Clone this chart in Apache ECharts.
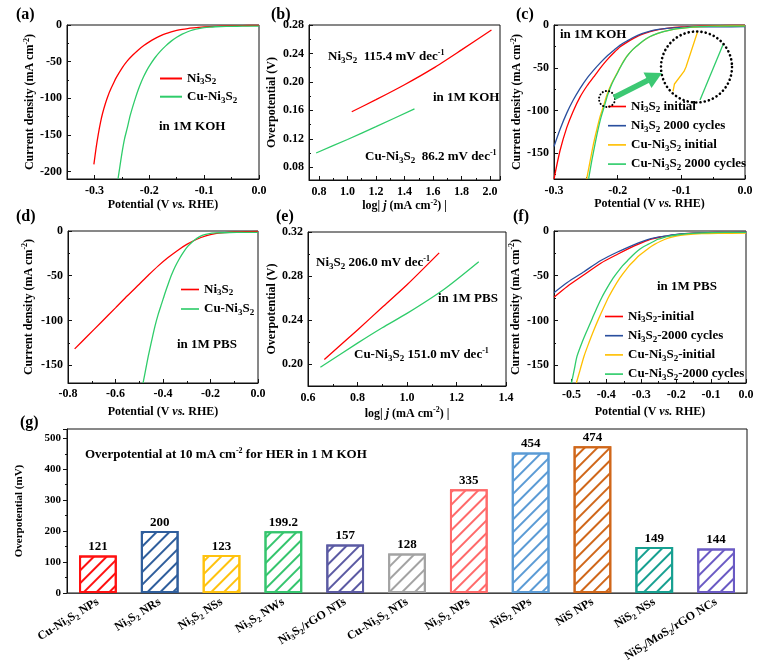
<!DOCTYPE html>
<html><head><meta charset="utf-8">
<script src="https://cdn.jsdelivr.net/npm/echarts@6/dist/echarts.min.js"></script>
<style>html,body{margin:0;padding:0;background:#fff}#c{width:762px;height:671px}</style>
</head><body><div id="c"></div><script>
// ---------------- DATA ----------------
// (a) LSV, 1M KOH  [potential V, current density mA cm-2]
const aNi3S2 = [[-0.301,-190],[-0.297,-168],[-0.293,-149],[-0.289,-133],[-0.285,-120],[-0.28,-107],[-0.275,-96],[-0.27,-87],[-0.265,-79],[-0.26,-71.5],[-0.25,-59],[-0.24,-49],[-0.23,-41],[-0.22,-34],[-0.21,-28],[-0.2,-23],[-0.19,-18.6],[-0.18,-14.8],[-0.17,-11.7],[-0.16,-9.3],[-0.15,-7.4],[-0.14,-6],[-0.13,-4.9],[-0.12,-4],[-0.11,-3.2],[-0.1,-2.6],[-0.08,-1.8],[-0.06,-1.3],[-0.04,-0.9],[-0.02,-0.7],[0,-0.5]];
const aCuNi3S2 = [[-0.257,-210],[-0.253,-190],[-0.249,-171],[-0.245,-155],[-0.24,-140],[-0.235,-124],[-0.23,-111],[-0.225,-99],[-0.22,-88],[-0.215,-78.5],[-0.21,-70],[-0.205,-62.5],[-0.2,-56],[-0.19,-45],[-0.18,-36],[-0.17,-28.5],[-0.16,-22],[-0.15,-16.8],[-0.14,-12.5],[-0.13,-9.2],[-0.12,-6.7],[-0.11,-4.9],[-0.1,-3.7],[-0.09,-2.9],[-0.08,-2.4],[-0.06,-1.9],[-0.04,-1.7],[-0.02,-1.6],[0,-1.5]];
// (b) Tafel, 1M KOH [log j, overpotential V]
const bNi3S2 = [[1.03,0.158],[1.2,0.175],[1.4,0.196],[1.6,0.219],[1.8,0.245],[2.01,0.273]];
const bCuNi3S2 = [[0.78,0.100],[1.0,0.119],[1.2,0.137],[1.47,0.162]];
// (c) stability, 1M KOH
const cNiInit = [[-0.3,-180],[-0.2906,-147],[-0.28,-120],[-0.27,-101],[-0.259,-84],[-0.248,-71],[-0.238,-61],[-0.227,-50],[-0.217,-41],[-0.206,-32.5],[-0.196,-25.5],[-0.185,-20],[-0.175,-15.7],[-0.162,-11],[-0.149,-7.8],[-0.136,-5.5],[-0.123,-3.9],[-0.1,-2.2],[-0.07,-1.2],[-0.04,-0.7],[0,-0.4]];
const cNi2000 = [[-0.3,-142],[-0.29,-121],[-0.28,-103],[-0.27,-88],[-0.259,-74],[-0.248,-62],[-0.238,-53],[-0.227,-44],[-0.217,-36.5],[-0.206,-29.5],[-0.196,-23.5],[-0.185,-18.5],[-0.175,-14.3],[-0.162,-10.2],[-0.149,-7.2],[-0.136,-5.2],[-0.123,-3.9],[-0.1,-2.8],[-0.07,-2.3],[-0.04,-2.1],[0,-2]];
const cCuInit = [[-0.2487,-180],[-0.243,-158],[-0.238,-139],[-0.233,-123],[-0.228,-108],[-0.222,-94],[-0.217,-82],[-0.21,-69],[-0.2015,-57],[-0.194,-46.5],[-0.186,-37],[-0.176,-28.5],[-0.165,-21.6],[-0.155,-16],[-0.144,-11.8],[-0.128,-7.8],[-0.1125,-5],[-0.09,-3],[-0.07,-2],[-0.04,-1.3],[0,-1]];
const cCu2000 = [[-0.2457,-180],[-0.2405,-158],[-0.2355,-139],[-0.231,-123],[-0.2262,-108],[-0.2205,-94],[-0.2158,-82],[-0.2092,-69],[-0.201,-57],[-0.1936,-46.5],[-0.1858,-37],[-0.176,-28.5],[-0.1652,-21.6],[-0.1552,-16],[-0.1442,-11.8],[-0.1282,-7.8],[-0.1127,-5],[-0.0905,-3],[-0.0705,-2],[-0.0405,-1.4],[0,-1.2]];
// (c) magnified inset (arbitrary inset units 0..10)
const insetCuInit = [[1.81,1.6],[2.01,2.64],[3.33,4.38],[3.61,5.0],[5.21,9.86]];
const insetCu2000 = [[5.56,0.42],[8.79,8.19]];
// (d) LSV, 1M PBS
const dNi3S2 = [[-0.772,-131.8],[-0.72,-118],[-0.66,-102],[-0.6,-86],[-0.55,-72.5],[-0.5,-59.5],[-0.46,-49],[-0.42,-39],[-0.38,-30],[-0.34,-22],[-0.3,-15],[-0.26,-9.5],[-0.22,-5.5],[-0.18,-3],[-0.14,-1.8],[-0.1,-1.1],[-0.05,-0.7],[0,-0.5]];
const dCuNi3S2 = [[-0.484,-170],[-0.473,-155],[-0.462,-140],[-0.448,-123],[-0.434,-106.7],[-0.42,-93],[-0.405,-80.7],[-0.391,-69],[-0.377,-58.4],[-0.363,-48.5],[-0.349,-40],[-0.331,-31],[-0.313,-23.3],[-0.295,-17],[-0.277,-12.2],[-0.256,-8],[-0.235,-4.8],[-0.21,-3.2],[-0.178,-2.2],[-0.12,-1.7],[-0.06,-1.5],[0,-1.5]];
// (e) Tafel, 1M PBS
const eNi3S2 = [[0.666,0.204],[0.8,0.231],[0.9,0.2515],[1.0,0.272],[1.13,0.301]];
const eCuNi3S2 = [[0.65,0.197],[0.8,0.219],[0.9,0.233],[1.0,0.246],[1.15,0.268],[1.29,0.293]];
// (f) stability, 1M PBS
const fNiInit = [[-0.55,-74],[-0.512,-62],[-0.464,-49],[-0.416,-36],[-0.368,-26],[-0.32,-16.7],[-0.296,-12.7],[-0.272,-9.2],[-0.248,-7],[-0.223,-5.5],[-0.2,-4],[-0.175,-3],[-0.13,-2],[-0.08,-1.6],[0,-1.4]];
const fNi2000 = [[-0.55,-69],[-0.512,-57.6],[-0.464,-45.5],[-0.416,-33],[-0.368,-23.5],[-0.32,-15.2],[-0.296,-11.5],[-0.272,-8.4],[-0.248,-6.5],[-0.223,-5.1],[-0.2,-3.9],[-0.175,-3],[-0.13,-2],[-0.08,-1.6],[0,-1.4]];
const fCuInit = [[-0.486,-170],[-0.475,-155],[-0.464,-140],[-0.45,-125],[-0.436,-111],[-0.422,-98],[-0.407,-85],[-0.393,-73.5],[-0.378,-63],[-0.364,-54],[-0.349,-46],[-0.335,-39],[-0.32,-33],[-0.306,-27.5],[-0.291,-23],[-0.277,-18.7],[-0.262,-15],[-0.243,-11.2],[-0.223,-8],[-0.2,-5.8],[-0.175,-4.4],[-0.127,-3],[-0.08,-2.6],[0,-2.4]];
const fCu2000 = [[-0.5,-170],[-0.492,-155],[-0.484,-140],[-0.47,-125],[-0.455,-111],[-0.44,-97.5],[-0.426,-85],[-0.412,-73.5],[-0.397,-63],[-0.383,-54],[-0.368,-46],[-0.354,-39],[-0.339,-33],[-0.325,-27.3],[-0.31,-22],[-0.296,-18.2],[-0.281,-15],[-0.266,-12],[-0.252,-9.2],[-0.237,-7.5],[-0.223,-6],[-0.195,-4.2],[-0.165,-3],[-0.12,-2],[-0.06,-1.6],[0,-1.5]];
// (g) overpotential comparison
const gCategories = ['Cu-Ni_3S_2 NPs','Ni_3S_2 NRs','Ni_3S_2 NSs','Ni_3S_2 NWs','Ni_3S_2/rGO NTs','Cu-Ni_3S_2 NTs','Ni_3S_2 NPs','NiS_2 NPs','NiS NPs','NiS_2 NSs','NiS_2/MoS_2/rGO NCs'];
const gValues = [121,200,123,199.2,157,128,335,454,474,149,144];
const gColors = ['#ff1010','#2f5e9c','#ffc20e','#35c56e','#5b5aa3','#a3a3a3','#ff6a6a','#5b9bd5','#d0671a','#17a091','#6a5ac4'];

// ---------------- HELPERS ----------------
const FF = "'Liberation Serif','Times New Roman',serif";
function R(s){
  let out='', buf='', i=0;
  const flush=()=>{ if(buf){ out+='{n|'+buf+'}'; buf=''; } };
  while(i<s.length){
    const c=s[i];
    if(c==='_'){ flush(); out+='{s|'+s[i+1]+'}'; i+=2; }
    else if((c==='^'||c==='~') && s[i+1]==='{'){ flush(); const j=s.indexOf('}',i); out+='{'+(c==='^'?'p':'i')+'|'+s.slice(i+2,j)+'}'; i=j+1; }
    else { buf+=c; i++; }
  }
  flush(); return out;
}
function RS(fs){
  const b={fontFamily:FF,fontWeight:'bold',color:'#000',fill:'#000'};
  const ss=Math.round(fs*0.7), ps=Math.round(fs*0.65);
  return {
    n:Object.assign({},b,{fontSize:fs,lineHeight:fs+3}),
    i:Object.assign({},b,{fontSize:fs,lineHeight:fs+3,fontStyle:'italic'}),
    s:Object.assign({},b,{fontSize:ss,height:ss,lineHeight:ss,verticalAlign:'bottom'}),
    p:Object.assign({},b,{fontSize:ps,height:ps,lineHeight:ps,verticalAlign:'top'})
  };
}
function axis(o){
  return {
    type:'value', gridIndex:o.g, min:o.min, max:o.max, minInterval:o.step, maxInterval:o.step,
    name:o.name?R(o.name):'', nameLocation:'middle', nameGap:o.gap||20,
    nameTextStyle:{rich:RS(12),fontFamily:FF,fontWeight:'bold',fontSize:12,color:'#000'},
    axisLine:{show:true,onZero:false,lineStyle:{color:'#111',width:1}},
    axisTick:{show:true,inside:!o.out,length:4,lineStyle:{color:'#111'}},
    minorTick:{show:true,splitNumber:2,length:2,lineStyle:{color:'#111'}},
    splitLine:{show:false}, minorSplitLine:{show:false},
    axisLabel:{margin:o.margin==null?5:o.margin,fontFamily:FF,fontWeight:'bold',fontSize:o.fs||12,color:'#000',
      formatter:v=>{const k=v/o.step; if(Math.abs(k-Math.round(k))>1e-6) return ''; return (Math.round(k)*o.step).toFixed(o.dec);}}
  };
}
function line(g,data,color,name){
  return {type:'line',name:name,xAxisIndex:g,yAxisIndex:g,data:data,showSymbol:false,symbol:'none',
    smooth:0.25,color:color,lineStyle:{color:color,width:1.3},itemStyle:{color:color},animation:false};
}
const RED='#ff0000', GRN='#2fcc6a', BLU='#2a4f9e', YEL='#ffbf00';
const legendNames = {
  aNi:'Ni_3S_2', aCu:'Cu-Ni_3S_2', dNi:'Ni_3S_2', dCu:'Cu-Ni_3S_2',
  cNiI:'Ni_3S_2 initial', cNi2:'Ni_3S_2 2000 cycles', cCuI:'Cu-Ni_3S_2 initial', cCu2:'Cu-Ni_3S_2 2000 cycles',
  fNiI:'Ni_3S_2-initial', fNi2:'Ni_3S_2-2000 cycles', fCuI:'Cu-Ni_3S_2-initial', fCu2:'Cu-Ni_3S_2-2000 cycles'
};
function legend(names,left,top,w,gap){
  return {data:names,orient:'vertical',left:left,top:top,padding:0,itemWidth:w,itemHeight:14,itemGap:gap,
    icon:'path://M0,6L22,6L22,8L0,8Z',
    textStyle:{rich:RS(13),fontFamily:FF,fontWeight:'bold',fontSize:13,color:'#000'},
    formatter:n=>R(legendNames[n]), selectedMode:false};
}

const grids = [
  {left:67,top:25,width:192,height:154},
  {left:309,top:25,width:191,height:155},
  {left:554,top:25,width:191,height:154},
  {left:68,top:231,width:190,height:152},
  {left:308,top:232,width:198,height:154},
  {left:554,top:231,width:192,height:152},
  {left:67,top:429,width:680,height:164},
  {left:660,top:31,width:72,height:72}
].map((g,i)=>Object.assign({show:i<7,borderColor:'#111',borderWidth:1,containLabel:false},g));

const POT='Potential (V ~{vs.} RHE)', CD='Current density (mA cm^{-2})', LOGJ='log| ~{j} (mA cm^{-2}) |';
const xAxes = [
  axis({g:0,min:-0.35,max:0,step:0.1,dec:1,name:POT,gap:18,margin:6}),
  axis({g:1,min:0.73,max:2.07,step:0.2,dec:1,name:LOGJ,gap:14,margin:6}),
  axis({g:2,min:-0.3,max:0,step:0.1,dec:1,name:POT,gap:16,margin:6}),
  axis({g:3,min:-0.8,max:0,step:0.2,dec:1,name:POT,gap:21,margin:5}),
  axis({g:4,min:0.6,max:1.4,step:0.2,dec:1,name:LOGJ,gap:20,margin:6}),
  axis({g:5,min:-0.55,max:0,step:0.1,dec:1,name:POT,gap:21,margin:6}),
  {type:'category',gridIndex:6,data:gCategories,axisTick:{show:false},
    axisLine:{lineStyle:{color:'#444',width:1.2}},
    axisLabel:{interval:0,rotate:32,margin:8,rich:RS(12),fontFamily:FF,fontWeight:'bold',fontSize:12,color:'#000',formatter:v=>R(v)}},
  {type:'value',gridIndex:7,min:0,max:10,show:false}
];
const yAxes = [
  axis({g:0,min:-210,max:0,step:50,dec:0,name:CD,gap:29}),
  axis({g:1,min:0.062,max:0.28,step:0.04,dec:2,name:'Overpotential (V)',gap:30}),
  axis({g:2,min:-180,max:0,step:50,dec:0,name:CD,gap:27}),
  axis({g:3,min:-170,max:0,step:50,dec:0,name:CD,gap:32}),
  axis({g:4,min:0.18,max:0.32,step:0.04,dec:2,name:'Overpotential (V)',gap:29}),
  axis({g:5,min:-170,max:0,step:50,dec:0,name:CD,gap:31}),
  Object.assign(axis({g:6,min:0,max:530,step:100,dec:0,name:'Overpotential (mV)',gap:41,out:true,fs:11,margin:6}),
    {nameTextStyle:{rich:RS(11),fontFamily:FF,fontWeight:'bold',fontSize:11,color:'#000'}}),
  {type:'value',gridIndex:7,min:0,max:10,show:false}
];

const series = [
  line(0,aNi3S2,RED,'aNi'), line(0,aCuNi3S2,GRN,'aCu'),
  line(1,bNi3S2,RED,'bNi'), line(1,bCuNi3S2,GRN,'bCu'),
  line(2,cNiInit,RED,'cNiI'), line(2,cNi2000,BLU,'cNi2'), line(2,cCuInit,YEL,'cCuI'), line(2,cCu2000,GRN,'cCu2'),
  line(3,dNi3S2,RED,'dNi'), line(3,dCuNi3S2,GRN,'dCu'),
  line(4,eNi3S2,RED,'eNi'), line(4,eCuNi3S2,GRN,'eCu'),
  line(5,fNiInit,RED,'fNiI'), line(5,fNi2000,BLU,'fNi2'), line(5,fCuInit,YEL,'fCuI'), line(5,fCu2000,GRN,'fCu2'),
  Object.assign(line(7,insetCuInit,YEL,'insY'),{smooth:false}),
  Object.assign(line(7,insetCu2000,GRN,'insG'),{smooth:false}),
  {type:'bar',xAxisIndex:6,yAxisIndex:6,barWidth:'61%',animation:false,
    label:{show:true,position:'top',distance:2,fontFamily:FF,fontWeight:'bold',fontSize:13,color:'#000'},
    data:gValues.map((v,i)=>({value:v,itemStyle:{color:'#fff',borderColor:gColors[i],borderWidth:2,
      decal:{symbol:'rect',symbolSize:1,color:gColors[i],dashArrayX:[1,0],dashArrayY:[1.4,6.5],rotation:-Math.PI/4}}}))}
];

// annotation texts (layout)
const notes = [
  [16,15,'(a)',16],[271,15,'(b)',16],[516,15,'(c)',16],[16,217,'(d)',16],[276,217,'(e)',16],[513,217,'(f)',16],[20,423,'(g)',16],
  [159,127,'in 1M KOH',13],[328,57,'Ni_3S_2  115.4 mV dec^{-1}',13],[433,98,'in 1M KOH',13],[365,157,'Cu-Ni_3S_2  86.2 mV dec^{-1}',13],
  [560,35,'in 1M KOH',13],[177,345,'in 1M PBS',13],[316,263,'Ni_3S_2 206.0 mV dec^{-1}',13],[438,299,'in 1M PBS',13],
  [354,355,'Cu-Ni_3S_2 151.0 mV dec^{-1}',13],[657,287,'in 1M PBS',13],[85,455,'Overpotential at 10 mA cm^{-2} for HER in 1 M KOH',13]
];
const graphic = notes.map(n=>({type:'text',x:n[0],y:n[1],z:100,silent:true,
  style:{text:R(n[2]),rich:RS(n[3]),fontFamily:FF,fontWeight:'bold',fontSize:n[3],fill:'#000',
    align:'left',verticalAlign:'middle',textAlign:'left',textVerticalAlign:'middle'}}));
const ARW='#3cc873';
graphic.push(
  {type:'circle',z:100,silent:true,shape:{cx:696.5,cy:67,r:35.5},style:{fill:'none',stroke:'#000',lineWidth:2.6,lineDash:[0.1,4.2],lineCap:'round'}},
  {type:'circle',z:100,silent:true,shape:{cx:607,cy:99,r:8},style:{fill:'none',stroke:'#000',lineWidth:2,lineDash:[0.1,3.2],lineCap:'round'}},
  {type:'line',z:100,silent:true,shape:{x1:614,y1:97.5,x2:648,y2:80.3},style:{stroke:ARW,lineWidth:5.5}},
  {type:'polygon',z:100,silent:true,shape:{points:[[662,73],[651.5,88],[643.5,72.5]]},style:{fill:ARW}}
);

const chart = echarts.init(document.getElementById('c'),null,{renderer:'canvas'});
chart.setOption({
  animation:false, backgroundColor:'#fff',
  grid:grids, xAxis:xAxes, yAxis:yAxes, series:series, graphic:graphic,
  legend:[
    legend(['aNi','aCu'],160,72,22,3.7),
    legend(['cNiI','cNi2','cCuI','cCu2'],608,100,18,4.7),
    legend(['dNi','dCu'],181,283,18,5),
    legend(['fNiI','fNi2','fCuI','fCu2'],605,310,18,4.7)
  ]
});
</script></body></html>
